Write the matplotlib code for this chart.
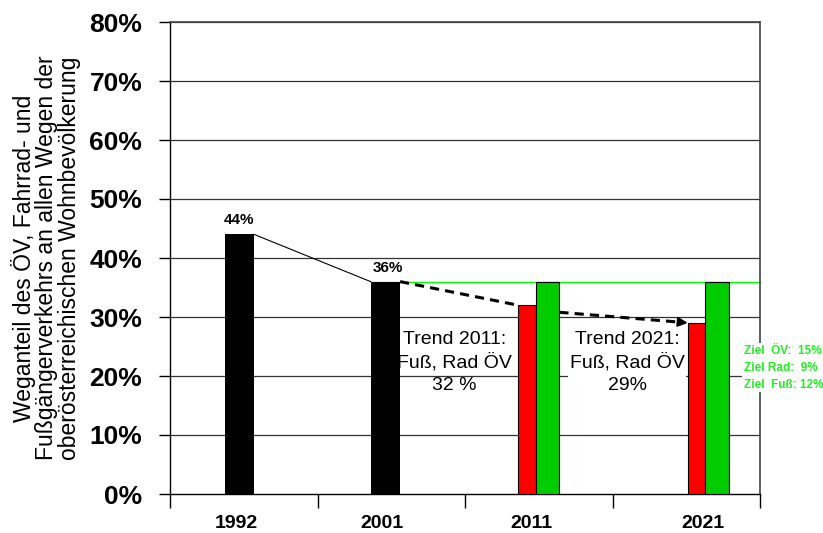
import matplotlib
matplotlib.use("Agg")
import matplotlib.pyplot as plt

NARROW = ['Liberation Sans Narrow', 'Liberation Sans', 'DejaVu Sans']
REG = ['Liberation Sans', 'DejaVu Sans']

years = ["1992", "2001", "2011", "2021"]
black_vals = [44, 36]          # 1992, 2001
trend_vals = [32, 29]          # red bars 2011, 2021
goal_vals = [36, 36]           # green bars 2011, 2021
ytick_vals = [0, 10, 20, 30, 40, 50, 60, 70, 80]
ylabel = "Weganteil des ÖV, Fahrrad- und\nFußgängerverkehrs an allen Wegen der\noberösterreichischen Wohnbevölkerung"
trend_texts = ["Trend 2011:\nFuß, Rad ÖV\n32 %", "Trend 2021:\nFuß, Rad ÖV\n29%"]
ziel_text = "Ziel  ÖV:  15%\nZiel Rad:  9%\nZiel  Fuß: 12%"

fig = plt.figure(figsize=(8.23, 5.33), dpi=100)
ax = fig.add_axes([170/823, 1-494/533, (760-170)/823, (494-22)/533])

# positions (in category units)
black_x = [0.47, 1.46]
black_w = 0.2
red_x = [2.42, 3.57]
red_w = 0.12
green_x = [2.56, 3.71]
green_w = 0.16

ax.set_xlim(0, 4)
ax.set_ylim(0, 80)

for y in ytick_vals[1:]:
    ax.axhline(y, color='#333333', lw=0.9, zorder=1)

ax.bar(black_x, black_vals, width=black_w, color='black', zorder=3)
ax.bar(red_x, trend_vals, width=red_w, color='#ff0000', edgecolor='black', lw=0.8, zorder=3)
ax.bar(green_x, goal_vals, width=green_w, color='#00cc00', edgecolor='black', lw=0.8, zorder=3)

# green goal line
ax.plot([black_x[1] - black_w/2, 4], [36, 36], color='#00ff00', lw=1.0, zorder=2, clip_on=False)

# thin solid line 1992 -> 2001
ax.plot([black_x[0] + black_w/2, black_x[1] - black_w/2], [black_vals[0], black_vals[1]],
        color='black', lw=0.8, zorder=4)
# dashed trend lines
ax.plot([black_x[1] + black_w/2, red_x[0] - red_w/2], [black_vals[1], trend_vals[0]],
        color='black', lw=2.2, ls=(0, (3, 2)), zorder=4)
ax.plot([green_x[0] + green_w/2, red_x[1] - red_w/2 - 0.04], [30.8, trend_vals[1] + 0.1],
        color='black', lw=2.2, ls=(0, (3, 2)), zorder=7)
ax.annotate("", xy=(red_x[1] - red_w/2, trend_vals[1]),
            xytext=(red_x[1] - red_w/2 - 0.06, trend_vals[1] + 0.15),
            arrowprops=dict(arrowstyle='-|>', color='black', lw=1.5,
                            shrinkA=0, shrinkB=0, mutation_scale=14), zorder=7)

# value labels
ax.text(black_x[0], black_vals[0] + 1.2, "44%", ha='center', va='bottom',
        fontsize=11, fontweight='bold', family=NARROW, zorder=5)
ax.text(black_x[1] + 0.02, black_vals[1] + 1.2, "36%", ha='center', va='bottom',
        fontsize=11, fontweight='bold', family=NARROW, zorder=5)

# trend texts
ax.text(1.93, 22.3, trend_texts[0], ha='center', va='center', fontsize=14,
        family=NARROW, linespacing=1.4, zorder=2.5)
ax.text(3.10, 22.3, trend_texts[1], ha='center', va='center', fontsize=14,
        family=NARROW, linespacing=1.4, zorder=2.5,
        bbox=dict(facecolor='white', edgecolor='none', pad=1))

# Ziel text
ax.text(3.89, 21.4, ziel_text, ha='left', va='center', fontsize=8.5, fontweight='bold',
        color='#22ee22', family=NARROW, linespacing=1.55, zorder=6, clip_on=False,
        bbox=dict(facecolor='white', edgecolor='none', pad=1))

# axes styling
for s in ['top', 'right']:
    ax.spines[s].set_visible(True)
    ax.spines[s].set_color('#444444')
    ax.spines[s].set_linewidth(1.2)
ax.spines['left'].set_color('black')
ax.spines['bottom'].set_color('black')
ax.spines['left'].set_linewidth(1.0)
ax.spines['bottom'].set_linewidth(1.0)

ax.set_yticks(ytick_vals)
ax.set_yticklabels([f"{v}%" for v in ytick_vals], fontsize=19, fontweight='bold', family=NARROW)
ax.tick_params(axis='y', length=8, width=1, pad=12)

ax.set_xticks([0, 1, 2, 3, 4], minor=True)
ax.tick_params(axis='x', which='minor', length=10, width=1, direction='out')
ax.set_xticks([black_x[0] - 0.02, black_x[1] - 0.02, 2.45, 3.61])
ax.set_xticklabels(years, fontsize=14, fontweight='bold', family=NARROW)
ax.tick_params(axis='x', which='major', length=0, pad=15)

ax.set_ylabel(ylabel, fontsize=16.5, family=REG, linespacing=0.98, labelpad=6)

fig.savefig("out.png", dpi=100)
